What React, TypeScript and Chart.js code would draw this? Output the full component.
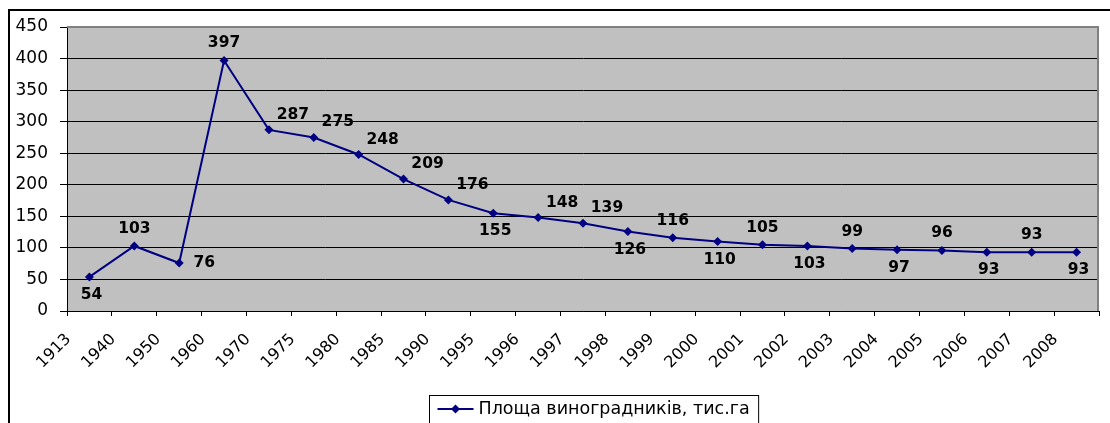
import React, { useEffect, useRef } from 'react';
import { Chart, registerables } from 'chart.js';

Chart.register(...registerables);

// ---- data ----
const YEARS: string[] = [
  '1913', '1940', '1950', '1960', '1970', '1975', '1980', '1985', '1990', '1995', '1996', '1997',
  '1998', '1999', '2000', '2001', '2002', '2003', '2004', '2005', '2006', '2007', '2008',
];
const VINEYARD_AREA: number[] = [
  54, 103, 76, 397, 287, 275, 248, 209, 176, 155, 148, 139,
  126, 116, 110, 105, 103, 99, 97, 96, 93, 93, 93,
];
const SERIES_NAME = 'Площа виноградників, тис.га';
const Y_MIN = 0;
const Y_MAX = 450;
const Y_STEP = 50;
// where each value label sits relative to its point
const LABEL_PLACEMENT: string[] = [
  'bottom', 'top', 'right', 'top', 'topRight', 'topRight', 'topRight', 'topRight', 'topRight', 'bottom', 'topRight', 'topRight',
  'bottom', 'top', 'bottom', 'top', 'bottom', 'top', 'bottom', 'top', 'bottom', 'top', 'bottom',
];

// ---- styles ----
const LINE_COLOR = '#000080';
const PLOT_BG = '#C0C0C0';
const FONT = '"DejaVu Sans", "Liberation Sans", Arial, sans-serif';
const PLACEMENT_OFFSETS: Record<string, [number, number]> = {
  top: [0, -17],
  bottom: [2, 18],
  right: [25, 0],
  topRight: [24, -15],
};

const decorPlugin = {
  id: 'decor',
  beforeDraw(chart: any) {
    const { ctx, chartArea: a } = chart;
    ctx.save();
    ctx.fillStyle = PLOT_BG;
    ctx.fillRect(a.left, a.top, a.right - a.left, a.bottom - a.top);
    ctx.restore();
  },
  afterDatasetsDraw(chart: any) {
    const { ctx, chartArea: a } = chart;
    // plot area top / right border (gray)
    ctx.save();
    ctx.strokeStyle = '#808080';
    ctx.lineWidth = 2;
    ctx.beginPath();
    ctx.moveTo(a.left, a.top);
    ctx.lineTo(a.right - 1, a.top);
    ctx.lineTo(a.right - 1, a.bottom);
    ctx.stroke();
    ctx.restore();

    // value labels
    const meta = chart.getDatasetMeta(0);
    ctx.save();
    ctx.font = `bold 15.5px ${FONT}`;
    ctx.fillStyle = '#000';
    ctx.textAlign = 'center';
    ctx.textBaseline = 'middle';
    meta.data.forEach((pt: any, i: number) => {
      const { x, y } = pt.getProps(['x', 'y'], true);
      const [dx, dy] = PLACEMENT_OFFSETS[LABEL_PLACEMENT[i]] || [0, -16];
      ctx.fillText(String(VINEYARD_AREA[i]), x + dx, y + dy);
    });
    ctx.restore();
  },
  afterDraw(chart: any) {
    const { ctx } = chart;
    ctx.save();
    // outer chart frame
    ctx.fillStyle = '#000';
    ctx.fillRect(8, 9, 1200, 2);
    ctx.fillRect(8, 9, 2, 500);

    // legend box
    ctx.font = `17.5px ${FONT}`;
    const tw = ctx.measureText(SERIES_NAME).width;
    const boxW = 8 + 36 + 5 + tw + 9;
    const boxLeft = Math.round(594 - boxW / 2) + 0.5;
    const boxTop = 395.5;
    ctx.strokeStyle = '#000';
    ctx.lineWidth = 1;
    ctx.strokeRect(boxLeft, boxTop, boxW, 60);
    const midY = 409;
    ctx.strokeStyle = LINE_COLOR;
    ctx.lineWidth = 2;
    ctx.beginPath();
    ctx.moveTo(boxLeft + 8, midY);
    ctx.lineTo(boxLeft + 44, midY);
    ctx.stroke();
    ctx.fillStyle = LINE_COLOR;
    const cx = boxLeft + 26;
    ctx.beginPath();
    ctx.moveTo(cx, midY - 4.5);
    ctx.lineTo(cx + 4.5, midY);
    ctx.lineTo(cx, midY + 4.5);
    ctx.lineTo(cx - 4.5, midY);
    ctx.closePath();
    ctx.fill();
    ctx.fillStyle = '#000';
    ctx.textAlign = 'left';
    ctx.textBaseline = 'middle';
    ctx.fillText(SERIES_NAME, boxLeft + 49, midY);
    ctx.restore();
  },
};

export default function App() {
  const canvasRef = useRef<HTMLCanvasElement | null>(null);

  useEffect(() => {
    if (!canvasRef.current) return;
    const chart = new Chart(canvasRef.current, {
      type: 'line',
      data: {
        labels: YEARS,
        datasets: [
          {
            label: SERIES_NAME,
            data: VINEYARD_AREA,
            borderColor: LINE_COLOR,
            backgroundColor: LINE_COLOR,
            borderWidth: 2,
            pointStyle: 'rectRot',
            pointRadius: 4.5,
            pointBorderWidth: 0,
            pointBackgroundColor: LINE_COLOR,
            tension: 0,
            fill: false,
          },
        ],
      },
      options: {
        animation: false,
        responsive: false,
        devicePixelRatio: 1,
        layout: { padding: { left: 0, top: 27, right: 11, bottom: 0 } },
        plugins: {
          legend: { display: false },
          tooltip: { enabled: false },
          title: { display: false },
        },
        scales: {
          x: {
            type: 'category',
            offset: true,
            afterFit: (scale: any) => {
              scale.height = 112;
            },
            grid: {
              offset: true,
              drawOnChartArea: false,
              drawTicks: true,
              tickLength: 5,
              color: '#000',
              lineWidth: 1,
            },
            border: { display: true, color: '#000', width: 1 },
            ticks: {
              autoSkip: false,
              maxRotation: 45,
              minRotation: 45,
              padding: 14,
              labelOffset: -21,
              color: '#000',
              font: { family: FONT, size: 16 },
            },
          },
          y: {
            min: Y_MIN,
            max: Y_MAX,
            afterFit: (scale: any) => {
              scale.width = 67;
            },
            grid: {
              color: '#000',
              lineWidth: 1,
              drawTicks: true,
              tickLength: 7,
            },
            border: { display: true, color: '#000', width: 1 },
            ticks: {
              stepSize: Y_STEP,
              padding: 12,
              color: '#000',
              font: { family: FONT, size: 17 },
            },
          },
        },
      },
      plugins: [decorPlugin],
    });
    return () => chart.destroy();
  }, []);

  return (
    <div style={{ position: 'absolute', left: 0, top: 0, width: 1110, height: 423, overflow: 'hidden', background: '#fff' }}>
      <canvas ref={canvasRef} width={1110} height={423} style={{ display: 'block' }} />
    </div>
  );
}
